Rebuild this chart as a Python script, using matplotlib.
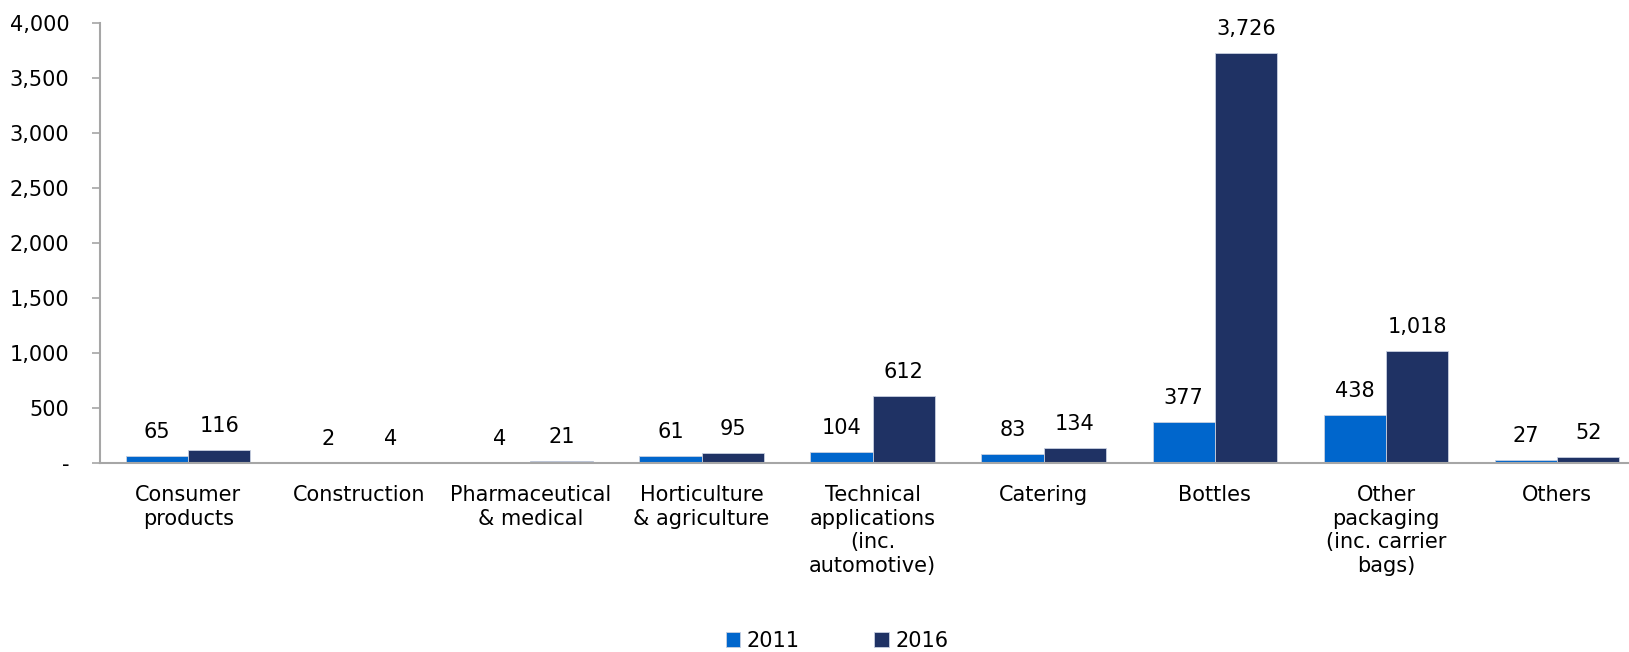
import numpy as np
import matplotlib.pyplot as plt
from matplotlib.ticker import FuncFormatter

categories = ["Consumer\nproducts", "Construction", "Pharmaceutical\n& medical",
              "Horticulture\n& agriculture", "Technical\napplications\n(inc.\nautomotive)",
              "Catering", "Bottles", "Other\npackaging\n(inc. carrier\nbags)", "Others"]
vals_2011 = [65, 2, 4, 61, 104, 83, 377, 438, 27]
vals_2016 = [116, 4, 21, 95, 612, 134, 3726, 1018, 52]
years = ["2011", "2016"]
colors = ["#0066CC", "#1F3264"]

plt.rcParams['font.family'] = ['DejaVu Sans']
fs = 15

fig = plt.figure(figsize=(16.29, 6.52), dpi=100)
ax = fig.add_axes([100/1629, 189/652, 1529/1629, 440/652])

x = np.arange(len(categories))
w = 0.364
for i, (vals, yr) in enumerate(zip([vals_2011, vals_2016], years)):
    pos = x + (i - 0.5) * w
    ax.bar(pos, vals, width=w, color=colors[i], edgecolor="#c8d0e0",
           linewidth=0.6, label=yr, zorder=2)
    for p, v in zip(pos, vals):
        ax.annotate(f"{v:,}", (p, v), xytext=(0, 10), textcoords="offset points",
                    ha="center", va="bottom", fontsize=fs)

ax.set_xlim(-0.515, 8.42)
ax.set_ylim(0, 4000)
ax.set_yticks(np.arange(0, 4001, 500))
ax.yaxis.set_major_formatter(FuncFormatter(lambda v, _: "-" if v == 0 else f"{int(v):,}"))
ax.set_xticks(x)
ax.set_xticklabels(categories, fontsize=fs, linespacing=1.22)

for s in ["top", "right"]:
    ax.spines[s].set_visible(False)
for s in ["left", "bottom"]:
    ax.spines[s].set_color("#a6a6a6")
    ax.spines[s].set_linewidth(1.5)
ax.tick_params(axis="y", length=6, width=1.2, color="#a6a6a6", pad=16, labelsize=fs)
ax.tick_params(axis="x", length=0, pad=16)

fig.legend(loc="center", bbox_to_anchor=(837/1629, 1 - 641/652), ncol=2, frameon=False,
           fontsize=fs, handlelength=0.7, handleheight=0.7, handletextpad=0.3,
           columnspacing=3.6)

fig.savefig("out.png", dpi=100)
